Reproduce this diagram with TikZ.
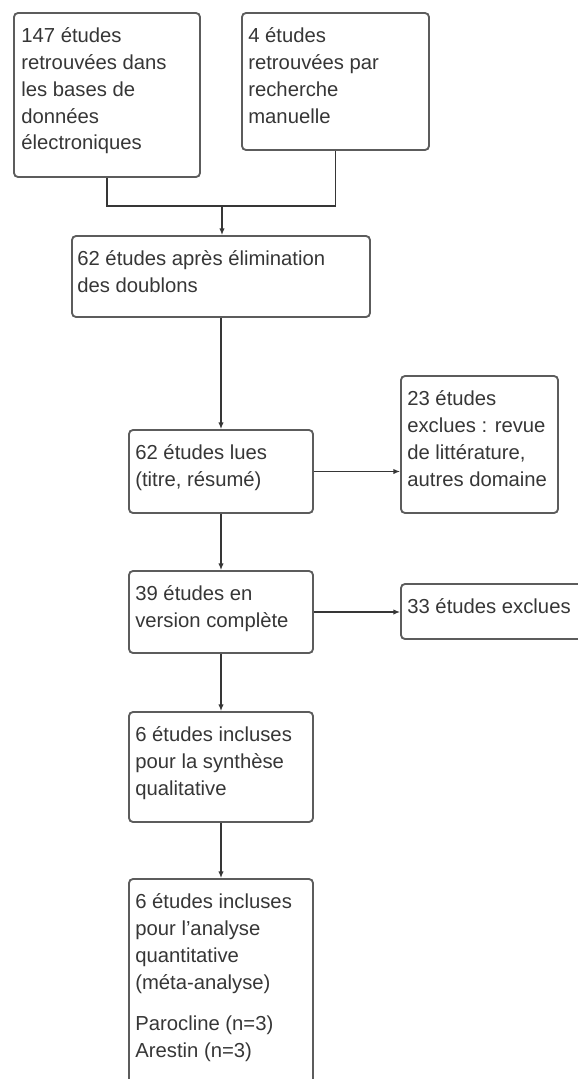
\documentclass[tikz,border=0pt]{standalone}
\usepackage{fontspec}
\setmainfont{Liberation Sans}
\usetikzlibrary{positioning, fit, arrows.meta}
\definecolor{bord}{HTML}{5C5C5C}
\definecolor{encre}{HTML}{363636}

\begin{document}
\begin{tikzpicture}[
    x=0.75pt, y=-0.75pt,
    boite/.style={rectangle, draw=bord, line width=1.4pt, rounded corners=3pt, inner sep=0pt},
    texte/.style={anchor=north west, align=left, inner sep=0pt, text=encre, font=\fontsize{15.2}{20.2}\selectfont},
    fleche/.style={-{Latex[length=5pt, width=4pt]}, draw=encre, line width=0.9pt},
    ligne/.style={draw=encre, line width=0.9pt}
]
\clip (0,0) rectangle (578,1079);

% Recherche
\node[boite, fit={(14,13) (200,177)}] (bases) {};
\node[boite, fit={(242,13) (429,150)}] (manuelle) {};
\coordinate (jonction) at (222,206);

% Selection
\node[boite, fit={(72,236) (370,317)}] (doublons) {};
\node[boite, fit={(129,430) (313,513)}] (lues) {};
\node[boite, fit={(401,376) (558,513)}] (exclus1) {};
\node[boite, fit={(129,571) (313,653)}] (complete) {};
\node[boite, fit={(401,584) (600,639)}] (exclus2) {};

% Inclusion
\node[boite, fit={(129,712) (313,822)}] (qualitative) {};
\node[boite, fit={(129,879) (313,1100)}] (quantitative) {};

% Textes
\node[texte] (t-bases) at ([shift={(8,15)}]bases.north west) {147 études\\retrouvées dans\\les bases de\\données\\électroniques};
\node[texte] (t-manuelle) at ([shift={(7,15)}]manuelle.north west) {4 études\\retrouvées par\\recherche\\manuelle};
\node[texte] (t-doublons) at ([shift={(6,15)}]doublons.north west) {62 études après élimination\\des doublons};
\node[texte] (t-lues) at ([shift={(7,15)}]lues.north west) {62 études lues\\(titre, résumé)};
\node[texte] (t-exclus1) at ([shift={(7,15)}]exclus1.north west) {23 études\\exclues : revue\\de littérature,\\autres domaine};
\node[texte] (t-complete) at ([shift={(7,15)}]complete.north west) {39 études en\\version complète};
\node[texte] (t-exclus2) at ([shift={(7,15)}]exclus2.north west) {33 études exclues};
\node[texte] (t-qualitative) at ([shift={(7,15)}]qualitative.north west) {6 études incluses\\pour la synthèse\\qualitative};
\node[texte] (t-quantitative) at ([shift={(7,15)}]quantitative.north west) {6 études incluses\\pour l\char39analyse\\quantitative\\(méta-analyse)\\[11pt]Parocline (n=3)\\Arestin (n=3)};

% Connecteurs
\draw[ligne] (bases.south) |- (jonction) -| (manuelle.south);
\draw[fleche] (jonction) -- (doublons.north -| jonction);
\draw[fleche] (doublons) -- (lues);
\draw[fleche] (lues.east) -- (lues.east -| exclus1.west);
\draw[fleche] (lues) -- (complete);
\draw[fleche] (complete.east) -- (complete.east -| exclus2.west);
\draw[fleche] (complete) -- (qualitative);
\draw[fleche] (qualitative) -- (quantitative);

\end{tikzpicture}
\end{document}
